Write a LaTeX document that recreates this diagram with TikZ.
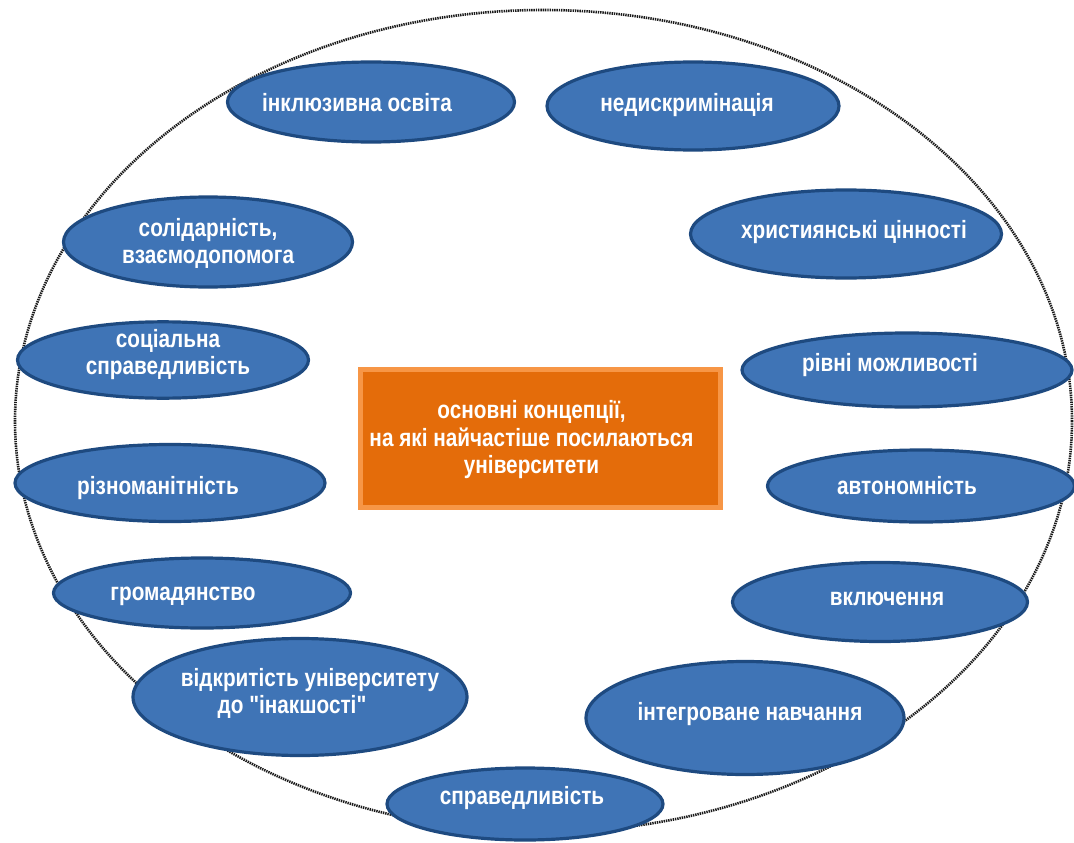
\documentclass[tikz,border=0pt]{standalone}
\usepackage{fontspec}
\setmainfont{Liberation Sans}[FakeStretch=0.83,Ligatures=TeXOff]
\usetikzlibrary{shapes.geometric}
\definecolor{efill}{HTML}{3F74B6}
\definecolor{eline}{HTML}{1E4A80}
\definecolor{ofill}{HTML}{E46C0A}
\definecolor{oline}{HTML}{F79646}
\definecolor{dotc}{HTML}{1A1A1A}
% #1 = horizontal shift, #2 = upward shift, #3 = lines
\newcommand\tx[3]{\makebox[0pt][l]{\hspace*{#1}\makebox[0pt]{\raisebox{0pt}[\dimexpr\height-(#2)\relax][\dimexpr\depth+(#2)\relax]{\begin{tabular}{@{}c@{}}#3\end{tabular}}}}}
\begin{document}
\begin{tikzpicture}[x=1pt,y=-1pt,
  oval/.style={ellipse,draw=eline,line width=3.2pt,fill=efill,inner sep=0pt,text=white,
    font=\fontsize{25}{27}\selectfont\bfseries},
  centrebox/.style={rectangle,draw=oline,line width=5pt,fill=ofill,inner sep=0pt,text=white,
    font=\fontsize{25}{27.5}\selectfont\bfseries,minimum width=360pt,minimum height=138pt},
  outer/.style={draw=dotc,line width=2.6pt,dash pattern=on 1.4pt off 0.9pt}]
\useasboundingbox (0,0) rectangle (1074,843);
\draw[outer] (543.5,421) ellipse [x radius=528.5, y radius=411];

\node[oval,minimum width=287pt,minimum height=80pt] (e1) at (371,102) {\tx{-14pt}{-4pt}{інклюзивна освіта}};
\node[oval,minimum width=292pt,minimum height=88pt] (e2) at (693,106) {\tx{-6pt}{0pt}{недискримінація}};
\node[oval,minimum width=289pt,minimum height=90pt] (e3) at (208,242) {\tx{0pt}{-3pt}{солідарність,\\взаємодопомога}};
\node[oval,minimum width=311pt,minimum height=88pt] (e4) at (846,234) {\tx{8pt}{1pt}{християнські цінності}};
\node[oval,minimum width=291pt,minimum height=74pt] (e5) at (163,360) {\tx{5pt}{4pt}{соціальна\\справедливість}};
\node[oval,minimum width=330pt,minimum height=74pt] (e6) at (907,370) {\tx{-17pt}{4pt}{рівні можливості}};
\node[oval,minimum width=310pt,minimum height=77pt] (e7) at (170,483) {\tx{-12pt}{-6pt}{різноманітність}};
\node[oval,minimum width=307pt,minimum height=72pt] (e8) at (921,486) {\tx{-14pt}{-3pt}{автономність}};
\node[oval,minimum width=297pt,minimum height=70pt] (e9) at (202,593) {\tx{-19pt}{-2pt}{громадянство}};
\node[oval,minimum width=295pt,minimum height=79pt] (e10) at (880,602) {\tx{7pt}{2pt}{включення}};
\node[oval,minimum width=334pt,minimum height=117pt] (e11) at (300,697) {\tx{10pt}{2pt}{відкритість університету\\до "інакшості"\hspace*{36pt}}};
\node[oval,minimum width=318pt,minimum height=113pt] (e12) at (745,718) {\tx{5pt}{3pt}{інтегроване навчання}};
\node[oval,minimum width=276pt,minimum height=72pt] (e13) at (525,804) {\tx{-3pt}{5pt}{справедливість}};

\node[centrebox] (c) at (540.5,438.5) {\tx{-9pt}{-2pt}{основні концепції,\\на які найчастіше посилаються\\університети}};
\end{tikzpicture}
\end{document}
